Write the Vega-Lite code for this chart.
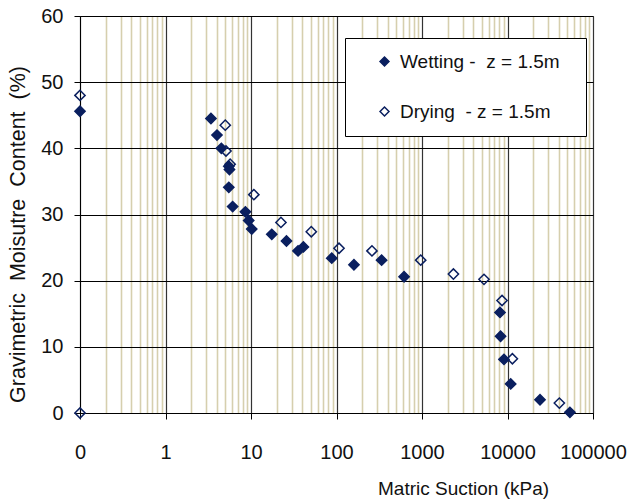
{
  "$schema": "https://vega.github.io/schema/vega-lite/v6.json",
  "autosize": "none",
  "width": 513,
  "height": 397,
  "padding": {"left": 80, "top": 16, "right": 34, "bottom": 90},
  "background": "white",
  "config": {
    "font": "Liberation Sans",
    "view": {"stroke": "#888888", "strokeWidth": 1}
  },
  "data": {
    "values": [
      {"suction": 0.1, "moisture": 45.6, "series": "Wetting -\u00a0 z = 1.5m"},
      {"suction": 3.4, "moisture": 44.5, "series": "Wetting -\u00a0 z = 1.5m"},
      {"suction": 4.0, "moisture": 42.0, "series": "Wetting -\u00a0 z = 1.5m"},
      {"suction": 4.5, "moisture": 40.0, "series": "Wetting -\u00a0 z = 1.5m"},
      {"suction": 5.5, "moisture": 37.3, "series": "Wetting -\u00a0 z = 1.5m"},
      {"suction": 5.6, "moisture": 36.8, "series": "Wetting -\u00a0 z = 1.5m"},
      {"suction": 5.5, "moisture": 34.1, "series": "Wetting -\u00a0 z = 1.5m"},
      {"suction": 6.1, "moisture": 31.2, "series": "Wetting -\u00a0 z = 1.5m"},
      {"suction": 8.6, "moisture": 30.4, "series": "Wetting -\u00a0 z = 1.5m"},
      {"suction": 9.4, "moisture": 29.1, "series": "Wetting -\u00a0 z = 1.5m"},
      {"suction": 10.2, "moisture": 27.8, "series": "Wetting -\u00a0 z = 1.5m"},
      {"suction": 17.5, "moisture": 27.0, "series": "Wetting -\u00a0 z = 1.5m"},
      {"suction": 26, "moisture": 26.0, "series": "Wetting -\u00a0 z = 1.5m"},
      {"suction": 35.5, "moisture": 24.5, "series": "Wetting -\u00a0 z = 1.5m"},
      {"suction": 41, "moisture": 25.1, "series": "Wetting -\u00a0 z = 1.5m"},
      {"suction": 88, "moisture": 23.4, "series": "Wetting -\u00a0 z = 1.5m"},
      {"suction": 160, "moisture": 22.4, "series": "Wetting -\u00a0 z = 1.5m"},
      {"suction": 337, "moisture": 23.1, "series": "Wetting -\u00a0 z = 1.5m"},
      {"suction": 617, "moisture": 20.6, "series": "Wetting -\u00a0 z = 1.5m"},
      {"suction": 8170, "moisture": 15.2, "series": "Wetting -\u00a0 z = 1.5m"},
      {"suction": 8300, "moisture": 11.6, "series": "Wetting -\u00a0 z = 1.5m"},
      {"suction": 9100, "moisture": 8.1, "series": "Wetting -\u00a0 z = 1.5m"},
      {"suction": 10900, "moisture": 4.4, "series": "Wetting -\u00a0 z = 1.5m"},
      {"suction": 24000, "moisture": 2.0, "series": "Wetting -\u00a0 z = 1.5m"},
      {"suction": 53700, "moisture": 0.1, "series": "Wetting -\u00a0 z = 1.5m"},
      {"suction": 0.1, "moisture": 48.0, "series": "Drying\u00a0 - z = 1.5m"},
      {"suction": 0.1, "moisture": 0.0, "series": "Drying\u00a0 - z = 1.5m"},
      {"suction": 5.0, "moisture": 43.5, "series": "Drying\u00a0 - z = 1.5m"},
      {"suction": 5.1, "moisture": 39.6, "series": "Drying\u00a0 - z = 1.5m"},
      {"suction": 5.7, "moisture": 37.6, "series": "Drying\u00a0 - z = 1.5m"},
      {"suction": 10.8, "moisture": 33.0, "series": "Drying\u00a0 - z = 1.5m"},
      {"suction": 22.4, "moisture": 28.8, "series": "Drying\u00a0 - z = 1.5m"},
      {"suction": 50.7, "moisture": 27.4, "series": "Drying\u00a0 - z = 1.5m"},
      {"suction": 107, "moisture": 24.9, "series": "Drying\u00a0 - z = 1.5m"},
      {"suction": 260, "moisture": 24.5, "series": "Drying\u00a0 - z = 1.5m"},
      {"suction": 966, "moisture": 23.1, "series": "Drying\u00a0 - z = 1.5m"},
      {"suction": 2330, "moisture": 21.0, "series": "Drying\u00a0 - z = 1.5m"},
      {"suction": 5310, "moisture": 20.2, "series": "Drying\u00a0 - z = 1.5m"},
      {"suction": 8630, "moisture": 17.0, "series": "Drying\u00a0 - z = 1.5m"},
      {"suction": 11400, "moisture": 8.2, "series": "Drying\u00a0 - z = 1.5m"},
      {"suction": 40400, "moisture": 1.5, "series": "Drying\u00a0 - z = 1.5m"}
    ]
  },
  "mark": {"type": "point", "shape": "diamond", "size": 105, "filled": false, "stroke": "#0a1f5f", "strokeWidth": 1.5, "opacity": 1},
  "encoding": {
    "x": {
      "field": "suction",
      "type": "quantitative",
      "scale": {"type": "log", "domain": [0.1, 100000], "nice": false},
      "axis": {
        "title": "Matric Suction (kPa)",
        "titleFontSize": 19,
        "titleFontWeight": "normal",
        "titleColor": "#111",
        "titleX": 383,
        "titleY": 75,
        "titleBaseline": "middle",
        "values": [0.1,0.2,0.3,0.4,0.5,0.6,0.7,0.8,0.9,1,2,3,4,5,6,7,8,9,10,20,30,40,50,60,70,80,90,100,200,300,400,500,600,700,800,900,1000,2000,3000,4000,5000,6000,7000,8000,9000,10000,20000,30000,40000,50000,60000,70000,80000,90000,100000],
        "labelExpr": "abs(log(datum.value)/LN10 - round(log(datum.value)/LN10)) < 0.001 ? (datum.value < 0.5 ? '0' : format(datum.value, 'd')) : ''",
        "labelOverlap": false,
        "labelFlush": false,
        "labelBound": false,
        "labelFontSize": 20,
        "labelColor": "#111",
        "labelPadding": 23,
        "tickSize": 6,
        "tickColor": {"expr": "abs(log(datum.value)/LN10 - round(log(datum.value)/LN10)) < 0.001 ? '#000000' : 'rgba(0,0,0,0)'"},
        "domainColor": "#000",
        "grid": true,
        "gridColor": {"expr": "abs(log(datum.value)/LN10 - round(log(datum.value)/LN10)) < 0.001 ? '#333333' : '#d6cfae'"},
        "gridWidth": {"expr": "abs(log(datum.value)/LN10 - round(log(datum.value)/LN10)) < 0.001 ? 1.2 : 1.6"}
      }
    },
    "y": {
      "field": "moisture",
      "type": "quantitative",
      "scale": {"domain": [0, 60], "nice": false},
      "axis": {
        "title": "Gravimetric\u00a0 Moisutre\u00a0 Content\u00a0 (%)",
        "titleFontSize": 21.5,
        "titleFontWeight": "normal",
        "titleColor": "#111",
        "titleX": -62,
        "titleY": 218,
        "titleBaseline": "middle",
        "values": [0, 10, 20, 30, 40, 50, 60],
        "labelFontSize": 20,
        "labelColor": "#111",
        "labelPadding": 11,
        "tickSize": 6,
        "tickColor": "#000",
        "domainColor": "#000",
        "grid": true,
        "gridColor": "#000",
        "gridWidth": 1.2
      }
    },
    "fill": {
      "field": "series",
      "type": "nominal",
      "scale": {"domain": ["Wetting -\u00a0 z = 1.5m", "Drying\u00a0 - z = 1.5m"], "range": ["#0a1f5f", "transparent"]},
      "legend": {
        "title": "\u00a0",
        "titleOrient": "right",
        "titlePadding": 12,
        "titleFontSize": 10,
        "orient": "none",
        "legendX": 265,
        "legendY": 22,
        "fillColor": "white",
        "strokeColor": "#000",
        "padding": 14,
        "symbolType": "diamond",
        "symbolSize": 80,
        "symbolStrokeColor": "#0a1f5f",
        "symbolStrokeWidth": 1.5,
        "symbolOffset": 16,
        "labelOffset": 6,
        "labelFontSize": 19,
        "labelColor": "#111",
        "labelLimit": 400,
        "rowPadding": 30
      }
    }
  }
}
